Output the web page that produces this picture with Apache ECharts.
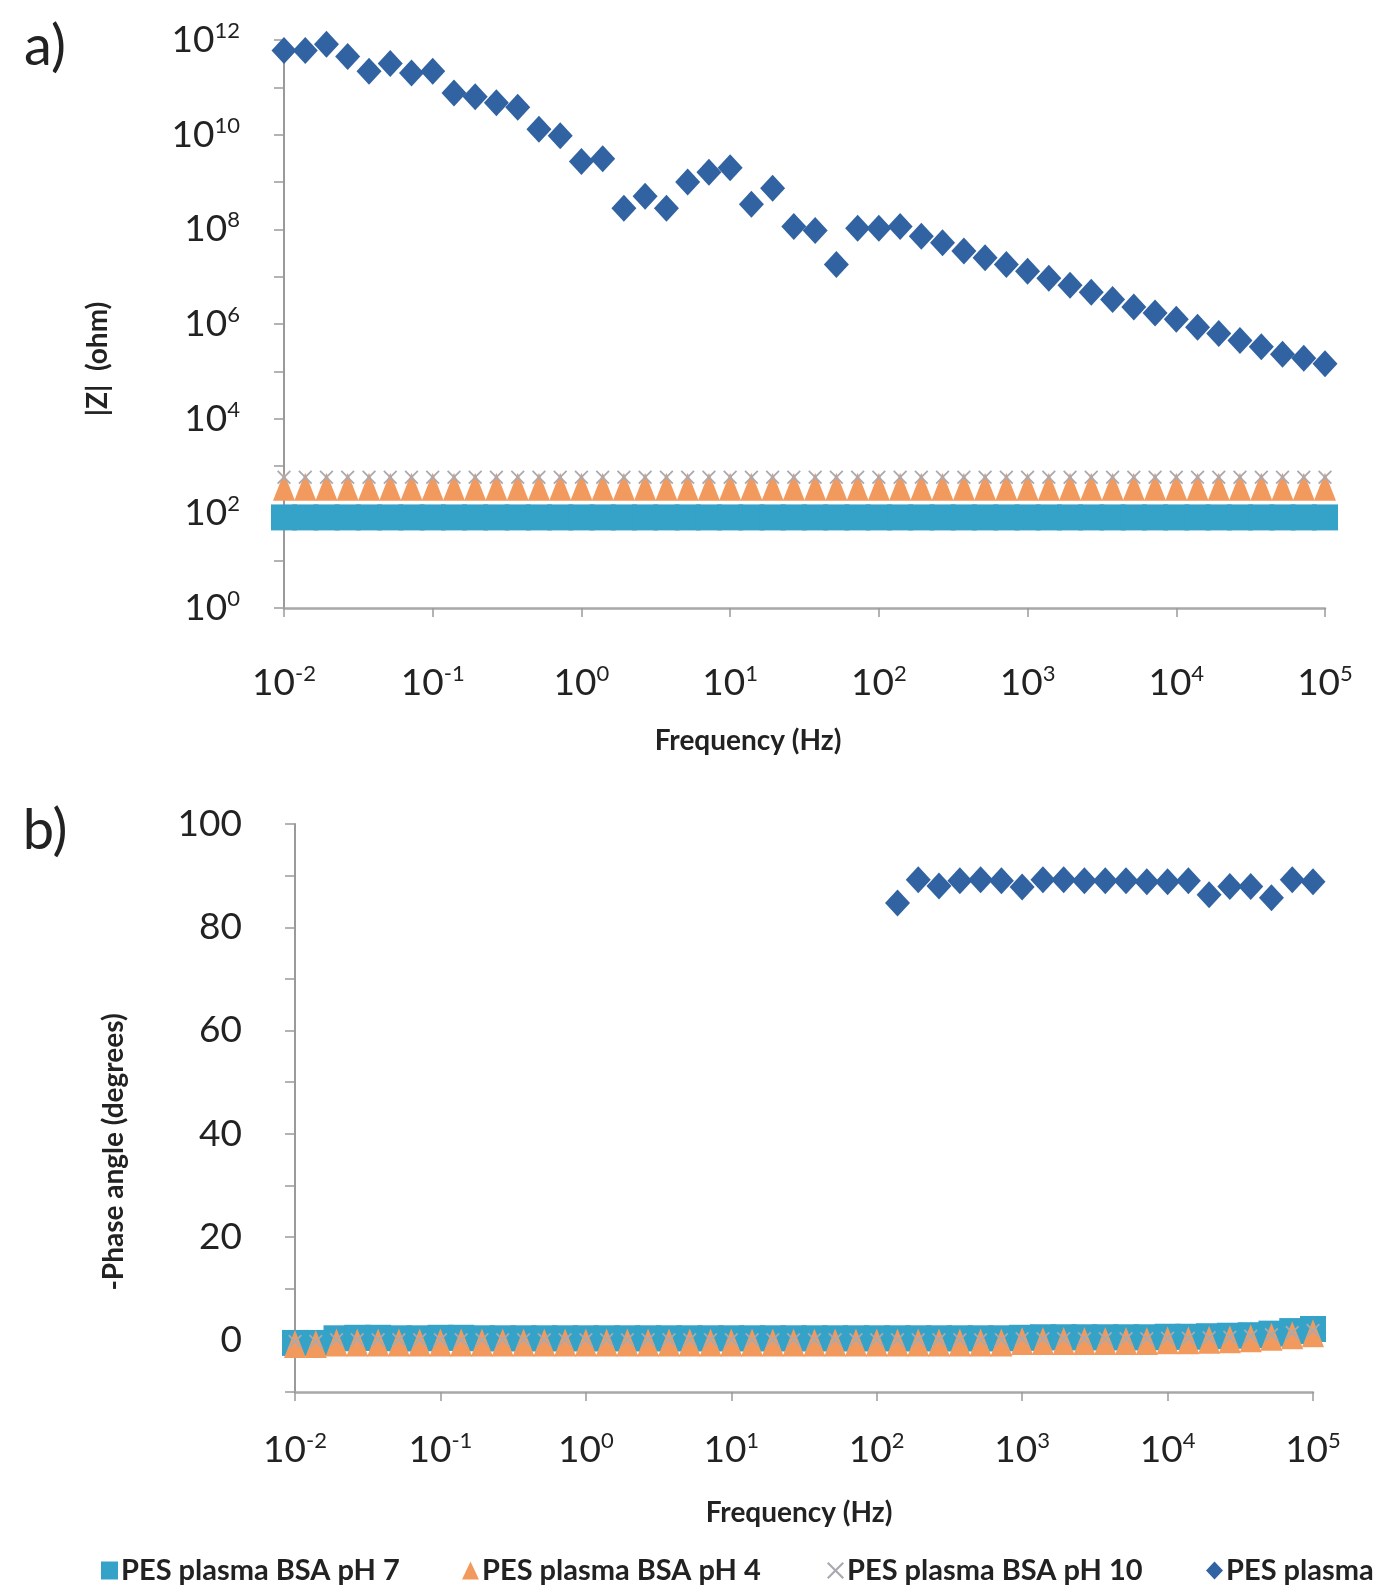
<!DOCTYPE html>
<html>
<head>
<meta charset="utf-8">
<script src="https://cdn.jsdelivr.net/npm/echarts@6/dist/echarts.min.js"></script>
<style>
html,body{margin:0;padding:0;background:#fff;}
#chart{width:1390px;height:1585px;}
</style>
</head>
<body>
<div id="chart"></div>
<script>
// Frequencies (Hz) of the sweep, 7 points per decade
const freq = [0.01, 0.0139, 0.0193, 0.0268, 0.0373, 0.0518, 0.072,
  0.1, 0.139, 0.193, 0.268, 0.373, 0.518, 0.72,
  1, 1.39, 1.93, 2.68, 3.73, 5.18, 7.2,
  10, 13.9, 19.3, 26.8, 37.3, 51.8, 72,
  100, 139, 193, 268, 373, 518, 720,
  1000, 1390, 1930, 2680, 3730, 5180, 7200,
  10000, 13900, 19300, 26800, 37300, 51800, 72000, 100000];

const seriesNames = ['PES plasma BSA pH 7', 'PES plasma BSA pH 4', 'PES plasma BSA pH 10', 'PES plasma'];

// |Z| (ohm)
const zPH7 = [82,82,82,82,82,82,82,82,82,82,82,82,82,82,82,82,82,82,82,82,82,82,82,82,82,
  82,82,82,82,82,82,82,82,82,82,82,82,82,82,82,82,82,82,82,82,82,82,82,82,82];
const zPH4 = [365,365,365,365,365,365,365,365,365,365,365,365,365,365,365,365,365,365,365,365,365,365,365,365,365,
  365,365,365,365,365,365,365,365,365,365,365,365,365,365,365,365,365,365,365,365,365,365,365,365,365];
const zPH10 = [580,580,580,580,580,580,580,580,580,580,580,580,580,580,580,580,580,580,580,580,580,580,580,580,580,
  580,580,580,580,580,580,580,580,580,580,580,580,580,580,580,580,580,580,580,580,580,580,580,580,580];
const zPES = [6.0e11, 6.0e11, 8.1e11, 4.5e11, 2.2e11, 3.2e11, 2.0e11, 2.2e11, 7.6e10, 6.3e10,
  4.7e10, 3.8e10, 1.3e10, 9.5e9, 2.7e9, 3.1e9, 2.8e8, 5.0e8, 2.8e8, 1.0e9,
  1.6e9, 2.0e9, 3.4e8, 7.4e8, 1.15e8, 9.5e7, 1.8e7, 1.05e8, 1.05e8, 1.15e8,
  7.1e7, 5.2e7, 3.5e7, 2.5e7, 1.8e7, 1.3e7, 9.3e6, 6.6e6, 4.7e6, 3.3e6,
  2.3e6, 1.7e6, 1.26e6, 8.5e5, 6.3e5, 4.5e5, 3.3e5, 2.3e5, 1.9e5, 1.45e5];

// -Phase angle (degrees)
const phPH7 = [-0.5,-0.5,0.4,0.5,0.5,0.4,0.4,0.5,0.5,0.4,0.4,0.4,0.4,0.4,0.4,0.4,0.4,0.4,0.4,0.4,0.4,0.4,0.4,0.4,0.4,
  0.4,0.4,0.4,0.4,0.4,0.4,0.4,0.4,0.4,0.4,0.5,0.6,0.6,0.6,0.6,0.6,0.6,0.7,0.7,0.8,0.9,1.0,1.3,1.8,2.2];
const phPH4 = [-0.7,-0.7,-0.4,-0.4,-0.4,-0.4,-0.4,-0.4,-0.4,-0.4,-0.4,-0.4,-0.4,-0.4,-0.4,-0.4,-0.4,-0.4,-0.4,-0.4,-0.4,-0.4,-0.4,-0.4,-0.4,
  -0.4,-0.4,-0.4,-0.4,-0.4,-0.4,-0.4,-0.4,-0.4,-0.4,-0.1,-0.1,-0.1,-0.1,-0.1,-0.1,-0.1,0,0,0.1,0.2,0.4,0.7,1.0,1.4];
const phPH10 = [-0.2,-0.2,0.1,0.1,0.1,0.1,0.1,0.1,0.1,0.1,0.1,0.1,0.1,0.1,0.1,0.1,0.1,0.1,0.1,0.1,0.1,0.1,0.1,0.1,0.1,
  0.1,0.1,0.1,0.1,0.1,0.1,0.1,0.1,0.1,0.1,0.3,0.3,0.3,0.3,0.3,0.3,0.3,0.4,0.4,0.5,0.6,0.8,1.1,1.5,1.9];
const phFreqPES = [139, 193, 268, 373, 518, 720, 1000, 1390, 1930, 2680, 3730, 5180, 7200,
  10000, 13900, 19300, 26800, 37300, 51800, 72000, 100000];
const phPES = [84.7, 89.2, 88.0, 89.0, 89.2, 89.0, 87.8, 89.2, 89.2, 89.0, 89.0, 89.0, 88.8,
  88.8, 89.0, 86.3, 87.9, 87.9, 85.7, 89.2, 88.8];

// tick labels
const xTickValues = [0.01, 0.1, 1, 10, 100, 1000, 10000, 100000];
const zLabelValues = [1, 1e2, 1e4, 1e6, 1e8, 1e10, 1e12];
const zTickValues = [1, 1e1, 1e2, 1e3, 1e4, 1e5, 1e6, 1e7, 1e8, 1e9, 1e10, 1e11, 1e12];

const colors = ['#35A2C8', '#F29A5E', '#A9A9B2', '#3162A1'];
const xPath = 'path://M0,0.9 L0.9,0 L5,4.1 L9.1,0 L10,0.9 L5.9,5 L10,9.1 L9.1,10 L5,5.9 L0.9,10 L0,9.1 L4.1,5 Z';
const symbols = ['rect', 'triangle', xPath, 'diamond'];
const symbolSizes = [26, [22, 28], 14, [25, 27]];
const legendLefts = [101, 462, 827, 1206];

function pairs(xs, ys) { return xs.map((x, i) => [x, ys[i]]); }

const textColor = '#222';
const FONT = 'Lato';
const powLabel = {
  formatter: v => '{b|10}{s|' + Math.round(Math.log10(v)) + '}',
  rich: {
    b: { fontSize: 37, fontFamily: FONT, color: textColor, lineHeight: 40 },
    s: { fontSize: 22, fontFamily: FONT, color: textColor, lineHeight: 22, verticalAlign: 'top' }
  }
};
const axisLineStyle = { show: true, lineStyle: { color: '#9a9a9a', width: 2 } };

const chart = echarts.init(document.getElementById('chart'), null, { renderer: 'canvas' });

const topData = [zPH7, zPH4, zPH10, zPES];
const botData = [pairs(freq, phPH7), pairs(freq, phPH4), pairs(freq, phPH10), pairs(phFreqPES, phPES)];

const series = [];
seriesNames.forEach((name, k) => {
  series.push({
    name, type: 'scatter', xAxisIndex: 0, yAxisIndex: 0,
    symbol: symbols[k], symbolSize: symbolSizes[k],
    itemStyle: { color: colors[k], opacity: 1 },
    data: pairs(freq, topData[k]), z: 2 + k, silent: true
  });
});
seriesNames.forEach((name, k) => {
  series.push({
    name, type: 'scatter', xAxisIndex: 1, yAxisIndex: 1,
    symbol: symbols[k], symbolSize: symbolSizes[k],
    itemStyle: { color: colors[k], opacity: 1 },
    data: botData[k], z: 2 + k, silent: true
  });
});

function xAxisCfg(gridIndex, margin) {
  return {
    type: 'log', logBase: 10, gridIndex, min: 0.01, max: 100000,
    position: 'bottom',
    axisLine: { show: true, onZero: false, lineStyle: { color: '#a8a8a8', width: 2.5 } },
    axisTick: { show: true, length: 9, lineStyle: { color: '#9a9a9a', width: 1.5 }, customValues: xTickValues },
    axisLabel: Object.assign({ margin, customValues: xTickValues }, powLabel),
    splitLine: { show: false }, minorTick: { show: false }
  };
}

const legends = seriesNames.map((n, k) => ({
  left: legendLefts[k], top: 1556, orient: 'horizontal', padding: 0,
  itemWidth: 17, itemHeight: 18, selectedMode: false,
  textStyle: { fontFamily: FONT, fontWeight: 'bold', fontSize: 29, color: textColor, padding: [0, 0, 0, -2] },
  data: [{ name: n, icon: symbols[k], itemStyle: { color: colors[k] } }]
}));

const option = {
  animation: false,
  backgroundColor: '#fff',
  grid: [
    { left: 284, top: 40, width: 1041, height: 568 },
    { left: 295, top: 824, width: 1018, height: 568 }
  ],
  xAxis: [xAxisCfg(0, 55), xAxisCfg(1, 38)],
  yAxis: [
    {
      type: 'log', logBase: 10, gridIndex: 0, min: 1, max: 1e12,
      axisLine: axisLineStyle,
      axisTick: { show: true, length: 10, lineStyle: { color: '#9a9a9a', width: 1.5 }, customValues: zTickValues },
      axisLabel: Object.assign({ margin: 44, customValues: zLabelValues }, powLabel),
      splitLine: { show: false }
    },
    {
      type: 'value', gridIndex: 1, min: -10, max: 100, interval: 10,
      axisLine: axisLineStyle,
      axisTick: { show: true, length: 10, lineStyle: { color: '#9a9a9a', width: 1.5 } },
      axisLabel: {
        margin: 53, fontSize: 37, fontFamily: FONT, color: textColor,
        formatter: v => (v % 20 === 0 ? String(v) : '')
      },
      splitLine: { show: false }
    }
  ],
  legend: legends,
  graphic: [
    { type: 'text', x: 45, y: 47, style: { text: 'a)', fontSize: 56, fontFamily: FONT, fill: textColor, align: 'center', verticalAlign: 'middle' } },
    { type: 'text', x: 45, y: 831, style: { text: 'b)', fontSize: 56, fontFamily: FONT, fill: textColor, align: 'center', verticalAlign: 'middle' } },
    { type: 'text', x: 98, y: 359, rotation: Math.PI / 2, style: { text: '|Z|  (ohm)', fontSize: 28, fontWeight: 'bold', fontFamily: FONT, fill: textColor, align: 'center', verticalAlign: 'middle' } },
    { type: 'text', x: 114, y: 1152, rotation: Math.PI / 2, style: { text: '-Phase angle (degrees)', fontSize: 28, fontWeight: 'bold', fontFamily: FONT, fill: textColor, align: 'center', verticalAlign: 'middle' } },
    { type: 'text', x: 748, y: 741, style: { text: 'Frequency (Hz)', fontSize: 28, fontWeight: 'bold', fontFamily: FONT, fill: textColor, align: 'center', verticalAlign: 'middle' } },
    { type: 'text', x: 799, y: 1513, style: { text: 'Frequency (Hz)', fontSize: 28, fontWeight: 'bold', fontFamily: FONT, fill: textColor, align: 'center', verticalAlign: 'middle' } }
  ],
  series
};
chart.setOption(option);
</script>
</body>
</html>
